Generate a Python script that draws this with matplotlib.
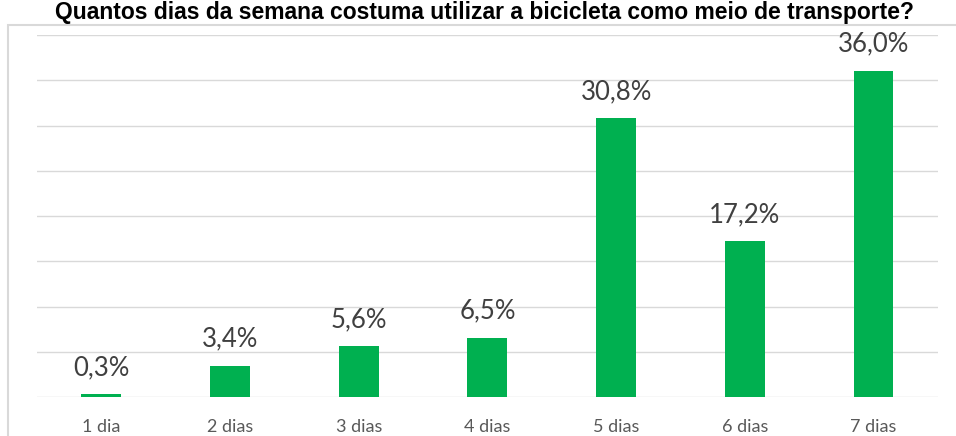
import matplotlib.pyplot as plt
from matplotlib.patches import Rectangle

# dados
categorias = ["1 dia", "2 dias", "3 dias", "4 dias", "5 dias", "6 dias", "7 dias"]
valores = [0.3, 3.4, 5.6, 6.5, 30.8, 17.2, 36.0]
titulo = "Quantos dias da semana costuma utilizar a bicicleta como meio de transporte?"

fig = plt.figure(figsize=(9.56, 4.36), dpi=100)
ax = fig.add_axes([0.0387, 0.0894, 0.9423, 0.8303])

# moldura do grafico (cortada na direita / em baixo)
fig.patches.append(Rectangle((8 / 956, -0.1), 1.2, 0.1 + 411 / 436,
                             transform=fig.transFigure, fill=False,
                             edgecolor="#D9D9D9", linewidth=1.5))

x = range(len(categorias))
barras = ax.bar(x, valores, width=0.31, color="#00B050", zorder=3)

for b, v in zip(barras, valores):
    ax.annotate(f"{v:.1f}%".replace(".", ","),
                (b.get_x() + b.get_width() / 2, b.get_height()),
                xytext=(0, 14), textcoords="offset points",
                ha="center", va="baseline", fontsize=18.5,
                color="#404040", family="Lato")

ax.set_ylim(0, 40)
ax.set_xlim(-0.5, len(categorias) - 0.5)
ax.set_yticks(range(0, 41, 5))
ax.set_yticklabels([])
ax.grid(axis="y", color="#D9D9D9", linewidth=1, zorder=0)
ax.tick_params(length=0)
ax.set_xticks(list(x))
ax.set_xticklabels(categorias, fontsize=13, color="#595959", family="Lato")
ax.tick_params(axis="x", pad=16)
for s in ax.spines.values():
    s.set_visible(False)

fig.text(0.507, 1 - 19 / 436, titulo, ha="center", va="baseline", fontsize=16.5,
         fontweight="bold", family="Liberation Sans", color="#000000")

fig.savefig("out.png", dpi=100)
